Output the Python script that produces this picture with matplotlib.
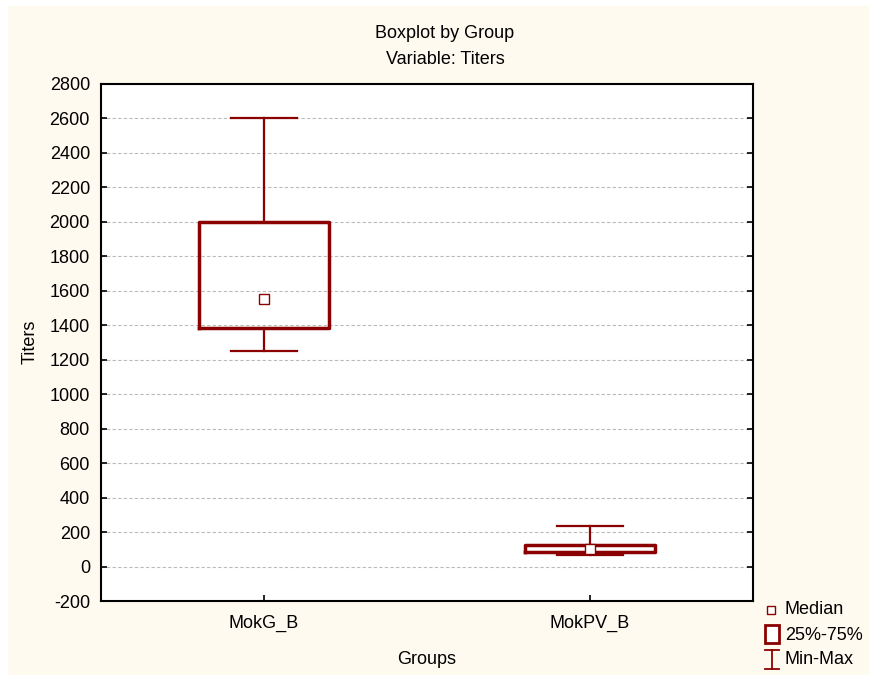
import matplotlib
matplotlib.use("Agg")
import matplotlib.pyplot as plt
from matplotlib.lines import Line2D
from matplotlib.patches import Rectangle

plt.rcParams['font.family'] = ['Liberation Sans', 'DejaVu Sans']
plt.rcParams['axes.unicode_minus'] = False

groups = ["MokG_B", "MokPV_B"]
mins = [1250, 66]
q1s = [1385, 83]
medians = [1553, 103]
q3s = [2000, 123]
maxs = [2600, 234]
legend_labels = ["Median", "25%-75%", "Min-Max"]

dark_red = '#8B0000'
W, H = 870, 675


def fx(px):
    return px / W


def fy(py):
    return 1 - py / H


fig = plt.figure(figsize=(8.7, 6.75), dpi=100)
fig.patch.set_facecolor('white')
# cream panel behind everything
fig.add_artist(Rectangle((fx(8), 0), 1, fy(6), transform=fig.transFigure,
                         facecolor='#FFFAF0', edgecolor='none', zorder=-10))

ax = fig.add_axes([fx(101), fy(601), 652 / W, 517 / H])
ax.set_facecolor('white')

stats = []
for g, lo, q1, med, q3, hi in zip(groups, mins, q1s, medians, q3s, maxs):
    stats.append({'label': g, 'whislo': lo, 'q1': q1, 'med': med, 'q3': q3,
                  'whishi': hi, 'fliers': []})

pos = [1, 2]
ax.bxp(stats, positions=pos, widths=0.4, capwidths=0.2, showfliers=False,
       boxprops=dict(color=dark_red, linewidth=2.5),
       whiskerprops=dict(color=dark_red, linewidth=1.6),
       capprops=dict(color=dark_red, linewidth=1.6),
       medianprops=dict(linestyle='none'), zorder=3)
ax.plot(pos, medians, linestyle='none', marker='s', markersize=7,
        markerfacecolor='white', markeredgecolor=dark_red, markeredgewidth=1.0, zorder=4)

ax.set_xlim(0.5, 2.5)
ax.set_ylim(-200, 2800)
ax.set_yticks(range(-200, 2801, 200))
ax.set_xticks(pos)
ax.set_xticklabels(groups)
ax.yaxis.grid(True, linestyle=(0, (3, 2)), color='#BBBBBB', linewidth=0.8)
ax.set_axisbelow(True)
ax.tick_params(axis='both', direction='in', length=4, width=1.2, labelsize=13, colors='black')
ax.tick_params(axis='y', right=True, pad=8)
ax.tick_params(axis='x', pad=10)
for s in ax.spines.values():
    s.set_linewidth(1.5)

fig.text(fx(445), fy(33), "Boxplot by Group", ha='center', va='center', fontsize=13)
fig.text(fx(445), fy(59), "Variable: Titers", ha='center', va='center', fontsize=13)
fig.text(fx(427), fy(660), "Groups", ha='center', va='center', fontsize=13)
fig.text(fx(30), fy(342), "Titers", ha='center', va='center', rotation=90, fontsize=13)

# legend drawn by hand
fig.add_artist(Line2D([fx(771)], [fy(610)], transform=fig.transFigure, linestyle='none',
                      marker='s', markersize=6, markerfacecolor='white',
                      markeredgecolor=dark_red, markeredgewidth=1.0))
fig.add_artist(Rectangle((fx(765), fy(643)), 14 / W, 18 / H, transform=fig.transFigure,
                         facecolor='white', edgecolor=dark_red, linewidth=2.0))
for xs, ys in [([765, 779], [650, 650]), ([772, 772], [650, 669]), ([765, 779], [669, 669])]:
    fig.add_artist(Line2D([fx(x) for x in xs], [fy(y) for y in ys], transform=fig.transFigure,
                          color=dark_red, linewidth=1.3))
for lab, y in zip(legend_labels, [610, 636, 660]):
    fig.text(fx(785), fy(y), lab, ha='left', va='center', fontsize=13)

fig.savefig("out.png", dpi=100)
